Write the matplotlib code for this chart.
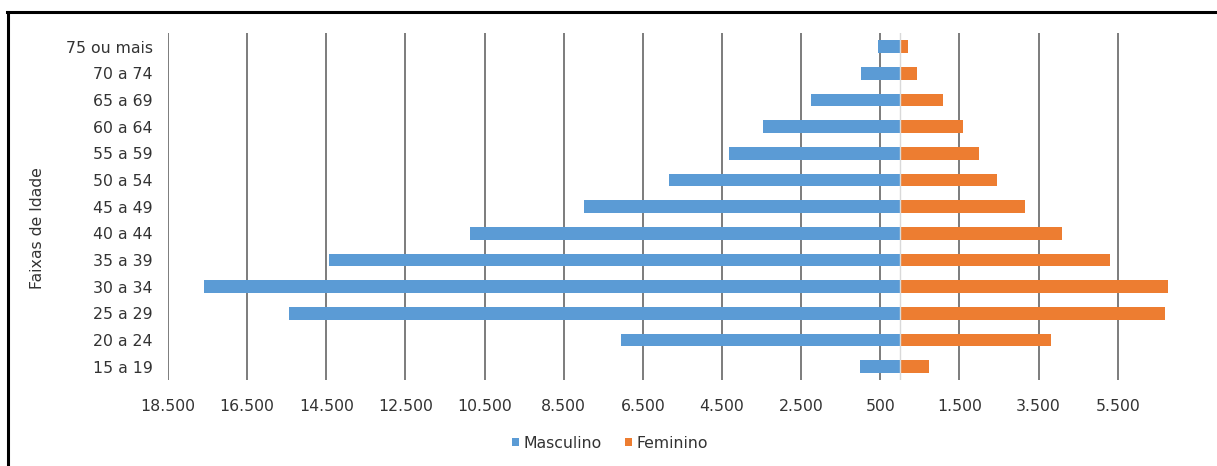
import matplotlib
matplotlib.use("Agg")
import matplotlib.pyplot as plt
from matplotlib.lines import Line2D
from matplotlib.patches import Patch

# Age groups, bottom to top
faixas = ["15 a 19", "20 a 24", "25 a 29", "30 a 34", "35 a 39", "40 a 44",
          "45 a 49", "50 a 54", "55 a 59", "60 a 64", "65 a 69", "70 a 74",
          "75 ou mais"]
masculino = [1020, 7050, 15440, 17580, 14440, 10880, 7980, 5840, 4330,
             3470, 2260, 980, 560]
feminino = [740, 3810, 6700, 6770, 5310, 4090, 3170, 2450, 1990,
            1590, 1090, 420, 200]
x_ticks = [-18500, -16500, -14500, -12500, -10500, -8500, -6500, -4500,
           -2500, -500, 1500, 3500, 5500]

AZUL = "#5B9BD5"
LARANJA = "#ED7D31"
GRADE = "#595959"
TEXTO = "#333333"
FS = 11.3

plt.rcParams["font.family"] = ["DejaVu Sans"]

W, H = 1217, 466
fig = plt.figure(figsize=(W / 100, H / 100), dpi=100)

x0, x1 = 168, 1177
y_top, y_bot = 33.3, 380
ax = fig.add_axes([x0 / W, (H - y_bot) / H, (x1 - x0) / W, (y_bot - y_top) / H])

pos = list(range(len(faixas)))
ax.barh(pos, [-v for v in masculino], height=0.47, color=AZUL, zorder=3,
        label="Masculino")
ax.barh(pos, feminino, height=0.47, color=LARANJA, zorder=3, label="Feminino")
ax.axvline(0, color="#D9D9D9", lw=1.0, zorder=4)

ax.set_xlim(-18500, 7000)
ax.set_ylim(-0.5, len(faixas) - 0.5)
ax.set_xticks(x_ticks)
ax.set_xticklabels([f"{abs(v):,}".replace(",", ".") for v in x_ticks])
ax.set_yticks(pos)
ax.set_yticklabels(faixas)
ax.tick_params(axis="both", length=0, labelsize=FS, colors=TEXTO)
ax.tick_params(axis="x", pad=14)
ax.tick_params(axis="y", pad=11)
ax.grid(axis="x", color=GRADE, lw=1.1, zorder=1)
ax.set_axisbelow(True)
for s in ax.spines.values():
    s.set_visible(False)

fig.text(38 / W, (H - 228) / H, "Faixas de Idade", rotation=90,
         ha="center", va="center", fontsize=FS, color=TEXTO)

handles = [Patch(facecolor=AZUL, label="Masculino"),
           Patch(facecolor=LARANJA, label="Feminino")]
fig.legend(handles=handles, loc="center", bbox_to_anchor=(610 / W, 23 / H),
           ncol=2, frameon=False, fontsize=FS, handlelength=0.45,
           handleheight=0.45, handletextpad=0.3, columnspacing=1.5,
           labelcolor=TEXTO)

# outer chart frame (left and top edges)
fig.add_artist(Line2D([7.5 / W, 7.5 / W], [0, (H - 12) / H], color="black",
                      lw=2.2, transform=fig.transFigure))
fig.add_artist(Line2D([6.5 / W, 1], [(H - 12) / H, (H - 12) / H],
                      color="black", lw=2.2, transform=fig.transFigure))

fig.savefig("out.png", dpi=100)
